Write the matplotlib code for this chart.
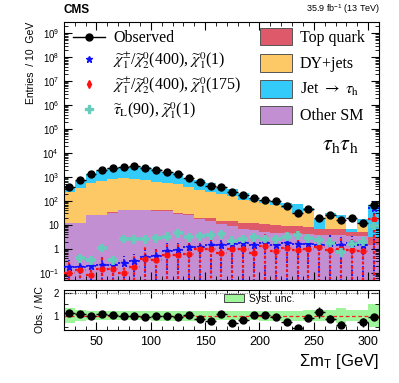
import numpy as np
import matplotlib
matplotlib.use("Agg")
import matplotlib.pyplot as plt
from matplotlib.patches import Patch
from matplotlib.lines import Line2D
from matplotlib.font_manager import FontProperties
from matplotlib.ticker import LogLocator, MultipleLocator, NullFormatter

plt.rcParams["font.family"] = ["Liberation Sans", "DejaVu Sans"]
plt.rcParams["mathtext.fontset"] = "custom"
plt.rcParams["mathtext.rm"] = "Liberation Sans"
plt.rcParams["mathtext.it"] = "Liberation Sans:italic"
plt.rcParams["mathtext.bf"] = "Liberation Sans:bold"

# ---------------------------------------------------------------------------
# Data (10 GeV bins, 20-310 GeV, last bin incl. overflow)
# ---------------------------------------------------------------------------
bin_edges = np.arange(20, 311, 10)
bin_centers = [25, 35, 45, 55, 65, 75, 85, 95, 105, 115, 125, 135, 145, 155,
               165, 175, 185, 195, 205, 215, 225, 235, 245, 255, 265, 275,
               285, 295, 305]

observed = [390, 740, 1300, 1900, 2450, 2600, 2750, 2450, 2030, 1620, 1300,
            870, 630, 420, 390, 225, 175, 132, 112, 95, 61, 32, 44, 19.5, 27,
            15.5, 20, 12, 66]

other_sm = [12, 12, 25, 25, 32, 40, 40, 40, 37, 37, 29, 25.5, 17, 15, 11, 9,
            7, 6, 5, 4.5, 4.5, 4.3, 4.2, 3.7, 3.7, 3.7, 3.3, 3.3, 1.5]
top_quark = [0.5, 0.5, 1, 1, 2, 2, 2, 2, 3, 3, 3, 2.5, 3, 4, 4, 5, 5, 6, 6, 5,
             4.5, 4.7, 4.3, 2.9, 2.9, 2.9, 1.5, 1.5, 1.5]
dy_jets = [232.5, 327.5, 514, 644, 776, 878, 768, 698, 590, 500, 458, 362,
           270, 226, 175, 139, 100, 83, 67, 60.5, 42, 23, 28.5, 0, 16.4, 13.4,
           0, 7.6, 0]
jet_tau = [103, 358, 780, 1120, 1545, 1720, 1980, 1860, 1430, 1105, 910, 450,
           470, 305, 170, 173, 101, 32, 30, 31, 34, 42, 12, 10.4, 8, 6, 1.8,
           4.6, 67]

sig_chi_1 = [0.17, 0.17, 0.2, 0.22, 0.22, 0.25, 0.3, 0.45, 0.5, 0.85, 0.9,
             1.15, 1.2, 1.4, 1.5, 1.6, 1.8, 1.5, 1.7, 1.5, 1.8, 1.6, 1.6, 1.5,
             1.8, 1.5, 1.7, 1.5, 50]
sig_chi_175 = [0.1, 0.13, 0.08, 0.15, 0.15, 0.1, 0.18, 0.39, 0.35, 0.53, 0.55,
               0.6, 1.0, 1.0, 0.68, 1.0, 1.0, 0.68, 1.37, 0.85, 1.1, 0.9, 1.0,
               1.2, 0.9, 1.0, 0.9, 0.8, 17]
sig_stau = [np.nan, 0.4, 0.33, 1.1, 0.33, 2.6, 2.5, 2.5, 2.8, 3.2, 4.5, 3.0,
            3.3, 3.6, 4.0, 2.2, 2.6, 3.0, 2.6, 2.5, 3.2, 3.6, 2.8, 2.3, 1.8,
            0.73, 1.6, 2.0, 9]

syst_unc = [0.35, 0.25, 0.2, 0.2, 0.2, 0.2, 0.2, 0.2, 0.22, 0.22, 0.22, 0.22,
            0.22, 0.2, 0.2, 0.2, 0.2, 0.2, 0.22, 0.22, 0.22, 0.22, 0.25, 0.25,
            0.25, 0.32, 0.25, 0.25, 0.5]

BKG = [
    ("Other SM", other_sm, "#c38fd3"),
    ("Top quark", top_quark, "#de5a6a"),
    ("DY+jets", dy_jets, "#fdc966"),
    (r"Jet $\rightarrow$ $\tau_{\rm h}$", jet_tau, "#33ccfa"),
]

x = np.array(bin_centers, dtype=float)
obs = np.array(observed, dtype=float)

# ---------------------------------------------------------------------------
# Figure
# ---------------------------------------------------------------------------
fig = plt.figure(figsize=(3.99, 3.83), dpi=100)
ax = fig.add_axes([0.160, 0.269, 0.790, 0.674])
rax = fig.add_axes([0.160, 0.138, 0.790, 0.105])

# stacked backgrounds
base = np.full(len(x), 1e-3)
for label, vals, color in BKG:
    top = base + np.array(vals, dtype=float)
    ax.stairs(top, bin_edges, baseline=base, fill=True, color=color,
              linewidth=0)
    base = top
total = base - 1e-3

# signals
def draw_signal(vals, color, marker, ms, up, lw):
    v = np.array(vals, dtype=float)
    eb = ax.errorbar(x, v, xerr=5, yerr=[v * 0.999, v * up], fmt=marker,
                     color=color, ms=ms, elinewidth=lw, capsize=0, zorder=4)
    for lc in eb[2]:
        lc.set_linestyle((0, (1.2, 1.2)))
    return eb

draw_signal(sig_chi_1, "#1010ff", "*", 4.5, 1.0, 1.3)
draw_signal(sig_chi_175, "#ff1010", "o", 3.5, 2.0, 1.6)

stau = np.array(sig_stau, dtype=float)
ax.errorbar(x, stau, xerr=4.5, yerr=[stau * 0.35, stau * 0.5], fmt="none",
            ecolor="#66ccbb", elinewidth=2.6, capsize=0, zorder=5)

# observed
ax.errorbar(x, obs, xerr=5, yerr=np.sqrt(obs), fmt="o", color="black",
            ms=5, elinewidth=1, capsize=0, zorder=6)

ax.set_yscale("log")
ax.set_ylim(0.05, 3e9)
ax.set_xlim(20, 310)
ax.set_xticklabels([])
yt = [10.0 ** k for k in range(-1, 10)]
ax.set_yticks(yt)
ax.set_yticklabels([r"$10^{-1}$", "1", "10"] +
                   [rf"$10^{{{k}}}$" for k in range(2, 10)], fontsize=7)
ax.yaxis.set_minor_locator(LogLocator(base=10, subs=np.arange(2, 10),
                                      numticks=100))
ax.yaxis.set_minor_formatter(NullFormatter())
ax.xaxis.set_major_locator(MultipleLocator(50))
ax.xaxis.set_minor_locator(MultipleLocator(10))
ax.set_ylabel("Entries  / 10  GeV", loc="top", fontsize=7.5, labelpad=2)

for a in (ax, rax):
    a.tick_params(which="both", direction="in", top=True, right=True)
    a.tick_params(which="major", length=6, width=0.8)
    a.tick_params(which="minor", length=3, width=0.6)

# legends
serif = FontProperties(family="Liberation Serif", size=11.5,
                       math_fontfamily="stix")
sig_handles = [
    Line2D([], [], color="black", marker="o", ms=5, lw=1),
    Line2D([], [], color="#1010ff", marker="*", ms=5, lw=0),
    Line2D([], [], color="#ff1010", marker="d", ms=4, lw=0),
    Line2D([], [], color="#66ccbb", marker="P", ms=6, lw=0),
]
sig_labels = [
    "Observed",
    r"$\widetilde{\chi}^{\pm}_{1}$/$\widetilde{\chi}^{0}_{2}$(400), $\widetilde{\chi}^{0}_{1}$(1)",
    r"$\widetilde{\chi}^{\pm}_{1}$/$\widetilde{\chi}^{0}_{2}$(400), $\widetilde{\chi}^{0}_{1}$(175)",
    r"$\widetilde{\tau}_{\rm L}$(90), $\widetilde{\chi}^{0}_{1}$(1)",
]
leg1 = ax.legend(sig_handles, sig_labels, loc="upper left",
                 bbox_to_anchor=(0.0, 1.005), prop=serif, frameon=False,
                 handlelength=2.0, labelspacing=0.25, handletextpad=0.5,
                 borderaxespad=0.2)
ax.add_artist(leg1)

bkg_order = [BKG[1], BKG[2], BKG[3], BKG[0]]
bkg_handles = [Patch(facecolor=c, edgecolor="#555555", linewidth=0.7)
               for _, _, c in bkg_order]
ax.legend(bkg_handles, [l for l, _, _ in bkg_order], loc="upper right",
          bbox_to_anchor=(0.985, 1.013), prop=serif, frameon=False,
          handlelength=2.0, handleheight=1.3, labelspacing=0.5,
          handletextpad=0.5, borderaxespad=0.2)

ax.text(0.935, 0.52, r"$\tau_{\rm h}\tau_{\rm h}$", transform=ax.transAxes,
        ha="right", va="center",
        fontproperties=FontProperties(family="Liberation Serif", size=16,
                                      math_fontfamily="stix"))

fig.text(0.160, 0.958, "CMS", fontsize=8.5, fontweight="bold", ha="left",
         va="bottom")
fig.text(0.952, 0.958, r"35.9 fb$^{-1}$ (13 TeV)", fontsize=6.5, ha="right",
         va="bottom")

# ---------------------------------------------------------------------------
# Ratio panel
# ---------------------------------------------------------------------------
ratio = obs / total
unc = np.array(syst_unc)
rax.stairs(1 + unc, bin_edges, baseline=1 - unc, fill=True,
           color="#9ff59a", linewidth=0)
rax.axhline(1, color="#ff2020", ls=(0, (3, 2)), lw=0.9)
rax.axhline(2, color="#888888", ls=(0, (1, 1)), lw=0.8)
rax.errorbar(x, ratio, xerr=5, yerr=ratio / np.sqrt(obs), fmt="o",
             color="black", ms=5, elinewidth=1, capsize=0, zorder=5)
rax.set_xlim(20, 310)
rax.set_ylim(0.35, 2.15)
rax.set_yticks([1, 2])
rax.set_yticklabels(["1", "2"], fontsize=7)
rax.yaxis.set_minor_locator(MultipleLocator(0.5))
rax.xaxis.set_major_locator(MultipleLocator(50))
rax.xaxis.set_minor_locator(MultipleLocator(10))
rax.tick_params(axis="x", labelsize=9, pad=4)
rax.set_ylabel("Obs. / MC", fontsize=7.5, labelpad=6)
rax.set_xlabel("Σm$_{\\rm T}$ [GeV]", fontsize=12, loc="right", labelpad=3)
rax.legend([Patch(facecolor="#9ff59a", edgecolor="#444444", linewidth=0.7)],
           ["Syst. unc."], loc="upper left", bbox_to_anchor=(0.49, 1.04),
           frameon=False, fontsize=7.5, handlelength=2.0, handleheight=0.9,
           handletextpad=0.4, borderaxespad=0.1)

fig.savefig("out.png", dpi=100)
